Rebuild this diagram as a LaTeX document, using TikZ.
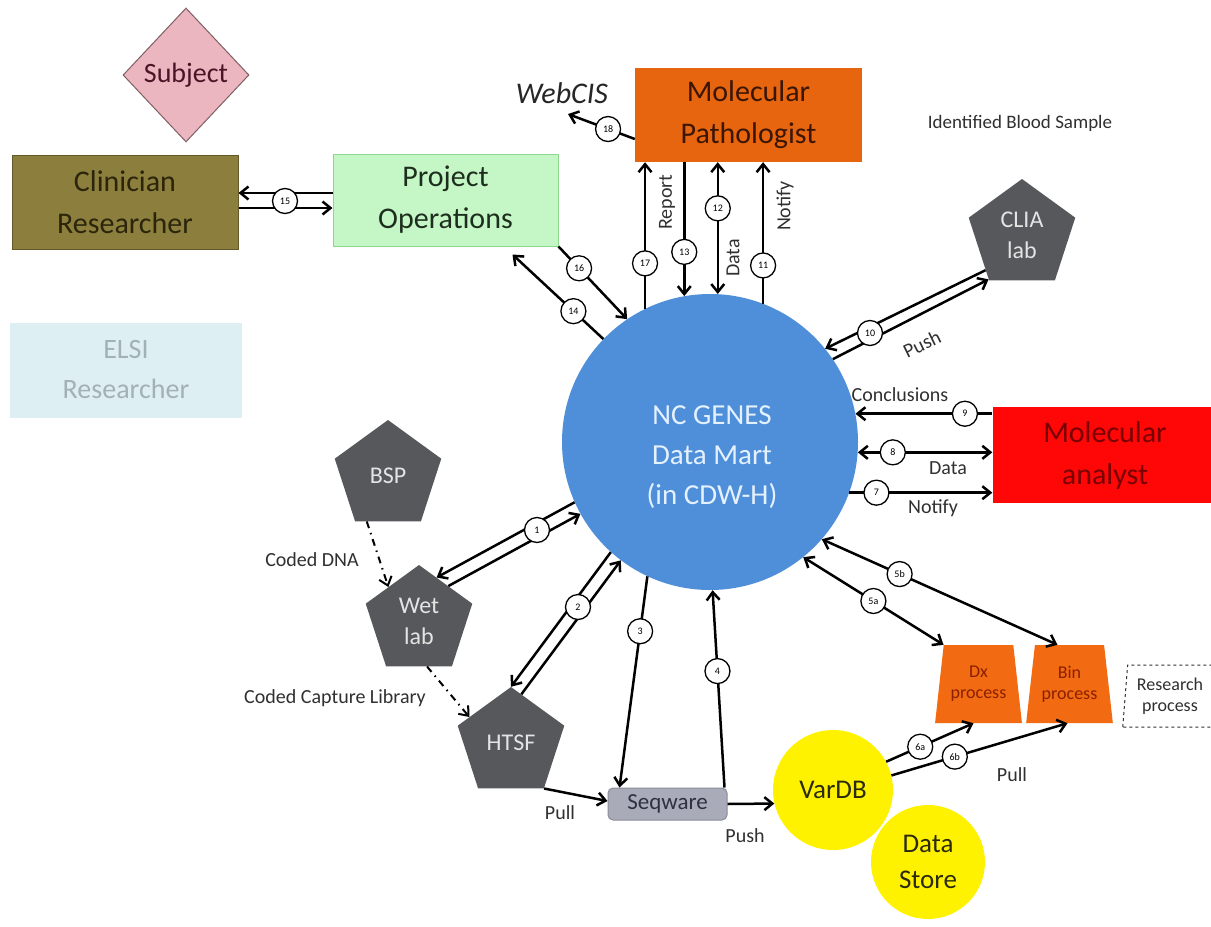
\documentclass[tikz,border=0pt]{standalone}
\usepackage{fontspec}
\setmainfont{Carlito}
\usetikzlibrary{shapes.geometric,arrows.meta,calc}
\definecolor{subjfill}{HTML}{EBB6BF}
\definecolor{subjdraw}{HTML}{7E5F64}
\definecolor{subjtext}{HTML}{4A1526}
\definecolor{clinfill}{HTML}{8C7E3D}
\definecolor{clindraw}{HTML}{625828}
\definecolor{clintext}{HTML}{2B250B}
\definecolor{opsfill}{HTML}{C5F6C5}
\definecolor{opsdraw}{HTML}{8FD68F}
\definecolor{opstext}{HTML}{1E2E1E}
\definecolor{elsifill}{HTML}{DDEFF3}
\definecolor{elsitext}{HTML}{A3B1B6}
\definecolor{mpfill}{HTML}{E8650F}
\definecolor{mptext}{HTML}{3B1604}
\definecolor{mafill}{HTML}{FF0707}
\definecolor{matext}{HTML}{780000}
\definecolor{ncfill}{HTML}{4F8FDA}
\definecolor{nctext}{HTML}{E4F1FF}
\definecolor{pentgray}{HTML}{56585B}
\definecolor{pentext}{HTML}{E4E4E4}
\definecolor{procfill}{HTML}{F26A11}
\definecolor{proctext}{HTML}{8A2000}
\definecolor{yel}{HTML}{FFF200}
\definecolor{yeltext}{HTML}{2B2B0C}
\definecolor{seqfill}{HTML}{A9ABB9}
\definecolor{seqdraw}{HTML}{8A8C9A}
\definecolor{seqtext}{HTML}{2F3142}
\definecolor{lbltext}{HTML}{303030}
\begin{document}
\begin{tikzpicture}[x=1pt,y=-1pt,
 ln/.style={line width=2.5pt, draw=black},
 arr/.style={ln, -{Straight Barb[length=8pt,width=13pt]}},
 barr/.style={ln, {Straight Barb[length=8pt,width=13pt]}-{Straight Barb[length=8pt,width=13pt]}},
 dd/.style={line width=2pt, draw=black, dash pattern=on 7pt off 5pt on 1.5pt off 5pt, -{Straight Barb[length=8pt,width=13pt]}},
 num/.style={circle, draw=black, line width=1.3pt, fill=white, minimum size=25pt, inner sep=0pt, font=\fontsize{10}{12}\selectfont},
 box/.style={rectangle, minimum width=226pt, minimum height=94pt, align=center, font=\fontsize{30}{42}\selectfont, inner sep=0pt},
 pent/.style={regular polygon, regular polygon sides=5, minimum size=112pt, inner sep=0pt, fill=pentgray, text=pentext, align=center, font=\fontsize{24}{31}\selectfont},
 trap/.style={trapezium, trapezium angle=79, trapezium stretches=true, minimum width=87pt, minimum height=78pt, inner sep=0pt, align=center, text=proctext, font=\fontsize{18}{21}\selectfont},
 lbl/.style={font=\fontsize{20}{24}\selectfont, text=lbltext, inner sep=1pt},
]
\fill[white] (0,0) rectangle (1211,927);
\useasboundingbox (0,0) rectangle (1211,927);

% main nodes
\node[diamond, draw=subjdraw, line width=1pt, fill=subjfill, minimum width=126pt, minimum height=134pt, inner sep=0pt, text=subjtext, font=\fontsize{28}{34}\selectfont] (subj) at (186,75) {Subject};
\node[box, fill=clinfill, draw=clindraw, line width=1pt, text=clintext] (cr) at (125,202) {Clinician\\Researcher};
\node[box, fill=opsfill, draw=opsdraw, line width=1pt, text=opstext, minimum width=225pt, minimum height=92pt] (po) at (445.5,200) {Project\\Operations};
\node[box, fill=elsifill, text=elsitext, minimum width=232pt, minimum height=95pt, font=\fontsize{28}{40}\selectfont] (elsi) at (126,370) {ELSI\\Researcher};
\node[box, fill=mpfill, text=mptext, minimum width=227pt] (mp) at (748.5,115) {Molecular\\Pathologist};
\node[box, fill=mafill, text=matext, minimum width=225pt, minimum height=96pt] (ma) at (1105,455) {Molecular\\analyst};
\node[circle, fill=ncfill, minimum size=296pt, inner sep=0pt] (nc) at (710,442) {};
\node[text=nctext, align=center, font=\fontsize{29}{40}\selectfont] (nctxt) at (712,457) {NC GENES\\Data Mart\\(in CDW-H)};

\node[pent] (clia) at (1022,235) {CLIA\\lab};
\node[pent] (bsp) at (388,476) {BSP};
\node[pent] (wet) at (419,621) {Wet\\lab};
\node[pent] (htsf) at (511,743) {HTSF};

\node[trap, fill=procfill] (dx) at (978.5,684) {Dx\\process};
\node[trap, fill=procfill] (bin) at (1069.5,684) {Bin\\process};
\node[trap, draw=lbltext, dashed, line width=1pt, minimum width=95pt, minimum height=62pt, trapezium angle=84, text=lbltext] (rp) at (1170,696) {Research\\process};

\node[circle, fill=yel, minimum size=120pt, inner sep=0pt, text=yeltext, font=\fontsize{27}{38}\selectfont] (vdb) at (833,790) {VarDB};
\node[circle, fill=yel, minimum size=114pt, inner sep=0pt, align=center, text=yeltext, font=\fontsize{27}{36}\selectfont] (ds) at (928,862) {Data\\Store};
\node[rectangle, rounded corners=5pt, fill=seqfill, draw=seqdraw, line width=1pt, minimum width=119pt, minimum height=32pt, inner sep=0pt, text=seqtext, font=\fontsize{23}{26}\selectfont] (sq) at (667.5,804) {Seqware};

% text labels
\node[font=\fontsize{30}{36}\selectfont\itshape, text=black!85] (webcis) at (562,93) {WebCIS};
\node[lbl, font=\fontsize{19}{22}\selectfont] (ibs) at (1020,123) {Identified Blood Sample};
\node[lbl, rotate=90] (lreport) at (667,202) {Report};
\node[lbl, rotate=90] (ldata12) at (733,258) {Data};
\node[lbl, rotate=90] (lnotify11) at (785,206) {Notify};
\node[lbl, rotate=26] (lpush10) at (922,344) {Push};
\node[lbl] (lconc) at (900,395) {Conclusions};
\node[lbl] (ldata8) at (948,468) {Data};
\node[lbl] (lnotify7) at (933,508) {Notify};
\node[lbl] (lpull6) at (1012,775) {Pull};
\node[lbl] (lpushsq) at (745,836) {Push};
\node[lbl] (lpullh) at (560,813) {Pull};
\node[lbl] (lcdna) at (312,560) {Coded DNA};
\node[lbl] (lccl) at (335,698) {Coded Capture Library};

% helper coordinates
\coordinate (p15a) at ([yshift=7pt]po.west);
\coordinate (p15b) at ([yshift=-8pt]po.west);
\coordinate (p14) at ([xshift=-46pt,yshift=-8pt]po.south east);
\coordinate (p18) at ([yshift=-24pt]mp.west);
\coordinate (p18e) at ([xshift=6pt,yshift=-7pt]webcis.south);
\coordinate (p5b) at ([xshift=-12pt]bin.north);

% connectors
\draw[arr] (p15a) -- (p15a -| cr.east);
\draw[arr] (p15b -| cr.east) -- (p15b);
\draw[arr] (po.south east) -- node[num, pos=0.3] (n16) {16} (nc.124);
\draw[arr] (nc.136) -- node[num, pos=0.33] (n14) {14} (p14);
\draw[arr] (nc.116) -- node[num, pos=0.31] (n17) {17} (nc.116 |- mp.south);
\draw[arr] (mp.south -| nc.100) -- node[num, pos=0.67] (n13) {13} (nc.100);
\draw[barr] (mp.south -| nc.87) -- node[num, pos=0.35] (n12) {12} (nc.87);
\draw[arr] (nc.69) -- node[num, pos=0.27] (n11) {11} (nc.69 |- mp.south);
\draw[arr] (p18) -- node[num, pos=0.4] (n18) {18} (p18e);
\draw[arr] (clia.224) -- (nc.39);
\draw[arr] (nc.34) -- (clia.233);
\draw[arr] (ma.west |- nc.11) -- node[num, pos=0.2] (n9) {9} (nc.11);
\draw[barr] (nc.-4) -- node[num, pos=0.26] (n8) {8} (ma.west |- nc.-4);
\draw[arr] (nc.-20) -- node[num, pos=0.19] (n7) {7} (ma.west |- nc.-20);
\draw[barr] (nc.-41) -- node[num, pos=0.33] (n5b) {5b} (p5b);
\draw[barr] (nc.-51) -- node[num, pos=0.5] (n5a) {5a} (dx.top left corner);
\draw[arr] (vdb.28) -- node[num, pos=0.39] (n6a) {6a} ([xshift=-5pt]dx.south);
\draw[arr] (vdb.14) -- node[num, pos=0.36] (n6b) {6b} ([xshift=-2pt]bin.south);
\draw[arr] ([xshift=-3pt]sq.north east) -- node[num, pos=0.59] (n4) {4} (nc.-89);
\draw[arr] (nc.-115) -- node[num, pos=0.26] (n3) {3} ([xshift=12pt]sq.north west);
\draw[arr] (sq.east) -- (vdb.193);
\draw[arr] (htsf.corner 4) -- ([yshift=3pt]sq.west);
\draw[arr] (nc.228) -- (htsf.90);
\draw[arr] (htsf.78) -- (nc.233);
\draw[arr] (nc.204) -- (wet.68);
\draw[arr] (wet.50) -- (nc.209);
\draw[dd] (bsp.245) -- (wet.132);
\draw[dd] (wet.280) -- (htsf.148);

% number circles on double lines
\node[num] (n15) at (285,201) {15};
\node[num] (n10) at (870,333) {10};
\node[num] (n2) at (578,607) {2};
\node[num] (n1) at (537,530) {1};
\end{tikzpicture}
\end{document}
